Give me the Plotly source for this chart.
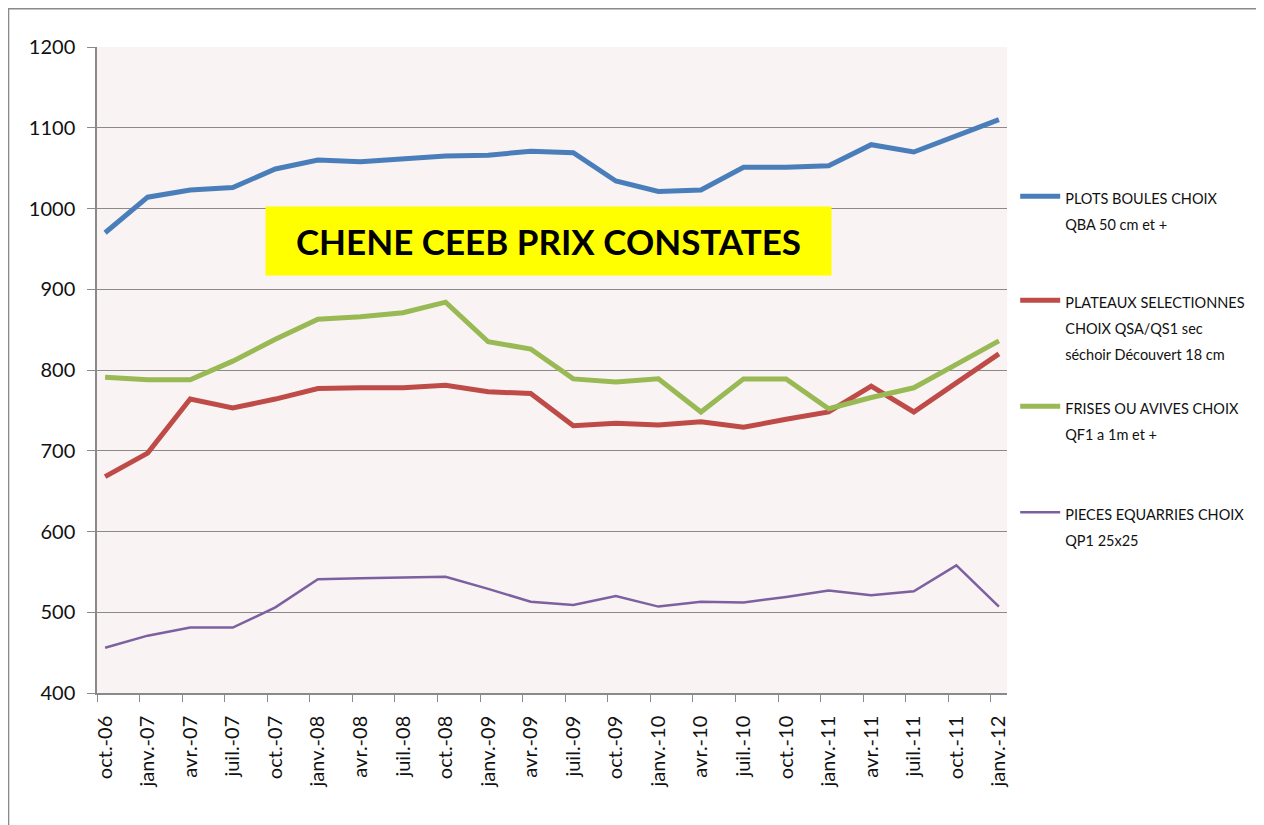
import plotly.graph_objects as go

categories = ["oct.-06", "janv.-07", "avr.-07", "juil.-07", "oct.-07", "janv.-08", "avr.-08",
              "juil.-08", "oct.-08", "janv.-09", "avr.-09", "juil.-09", "oct.-09", "janv.-10",
              "avr.-10", "juil.-10", "oct.-10", "janv.-11", "avr.-11", "juil.-11", "oct.-11",
              "janv.-12"]

plots_boules = [970, 1014, 1023, 1026, 1049, 1060, 1058, 1062, 1065, 1066, 1071, 1069,
                1034, 1021, 1023, 1051, 1051, 1053, 1079, 1070, 1090, 1110]
plateaux = [668, 697, 764, 753, 764, 777, 778, 778, 781, 773, 771, 731,
            734, 732, 736, 729, 739, 748, 780, 748, 784, 820]
frises = [791, 788, 788, 811, 838, 863, 866, 871, 884, 835, 826, 789,
          785, 789, 748, 789, 789, 752, 766, 778, 807, 836]
pieces = [456, 471, 481, 481, 506, 541, 542, 543, 544, 529, 513, 509,
          520, 507, 513, 512, 519, 527, 521, 526, 558, 507]

series_names = [
    "PLOTS BOULES CHOIX<br>QBA 50 cm et +",
    "PLATEAUX SELECTIONNES<br>CHOIX QSA/QS1 sec<br>séchoir Découvert 18 cm",
    "FRISES OU AVIVES CHOIX<br>QF1 a 1m et +",
    "PIECES EQUARRIES CHOIX<br>QP1 25x25",
]
series_values = [plots_boules, plateaux, frises, pieces]
series_colors = ["#4a7ebb", "#be4b48", "#98b954", "#7d60a0"]
series_widths = [5, 5, 5, 2.5]
legend_ids = ["legend", "legend2", "legend3", "legend4"]
legend_tops = [0.799, 0.638, 0.474, 0.310]

title_text = "CHENE CEEB PRIX CONSTATES"
y_ticks = [400, 500, 600, 700, 800, 900, 1000, 1100, 1200]

FONT = "Lato, 'Liberation Sans', sans-serif"
x_idx = list(range(len(categories)))
# Excel draws its category tick marks slightly left of the data points
tick_marks = [i - 0.19 for i in x_idx]

fig = go.Figure()
for name, vals, col, w, lg in zip(series_names, series_values, series_colors, series_widths, legend_ids):
    fig.add_trace(go.Scatter(
        x=x_idx, y=vals, mode="lines", name=f'<span style="font-size:14.5px">{name}</span>',
        line=dict(color=col, width=w), legend=lg,
    ))

legend_common = dict(
    x=1.009, xanchor="left", yanchor="top", valign="top",
    font=dict(family=FONT, size=20, color="#111111"),
    bgcolor="rgba(0,0,0,0)", borderwidth=0, itemwidth=40,
)
layout_legends = {}
for lg, top in zip(legend_ids, legend_tops):
    layout_legends[lg] = dict(legend_common, y=top)

fig.update_layout(
    width=1256, height=817,
    margin=dict(l=89, r=257, t=39, b=132),
    paper_bgcolor="white",
    plot_bgcolor="#f9f3f3",
    showlegend=True,
    font=dict(family=FONT, color="#111111"),
    xaxis=dict(
        range=[-0.19, 21.19],
        tickmode="array", tickvals=x_idx, ticktext=categories,
        tickangle=-90, tickfont=dict(size=20, family=FONT, color="#111111"),
        ticks="", ticklabelstandoff=13,
        minor=dict(tickmode="array", tickvals=tick_marks, ticks="outside", ticklen=7,
                   tickcolor="#8a8a8a", tickwidth=1.3, showgrid=False),
        showgrid=False, zeroline=False,
        showline=True, linecolor="#8a8a8a", linewidth=1.5,
    ),
    yaxis=dict(
        range=[400, 1200],
        tickmode="array", tickvals=y_ticks,
        tickfont=dict(size=20, family=FONT, color="#111111"),
        ticks="outside", ticklen=8, tickcolor="#8a8a8a", tickwidth=1.3,
        ticklabelstandoff=8,
        showgrid=True, gridcolor="#8a8a8a", gridwidth=1.3,
        zeroline=False,
        showline=True, linecolor="#8a8a8a", linewidth=1.5,
    ),
    **layout_legends,
)

# outer chart-area border
fig.add_shape(type="rect", xref="paper", yref="paper",
              x0=-0.0972, x1=1.35, y0=-0.25, y1=1.0592,
              line=dict(color="#8a8a8a", width=1.5), fillcolor="rgba(0,0,0,0)", layer="below")

fig.add_annotation(
    xref="paper", yref="paper", x=0.496, y=0.6997, xanchor="center", yanchor="middle",
    text="<b>" + title_text + "</b>", showarrow=False,
    font=dict(family=FONT, size=35, color="#000000"),
    bgcolor="#ffff00", width=563, height=66, align="center",
)

fig.write_html("out.html")
